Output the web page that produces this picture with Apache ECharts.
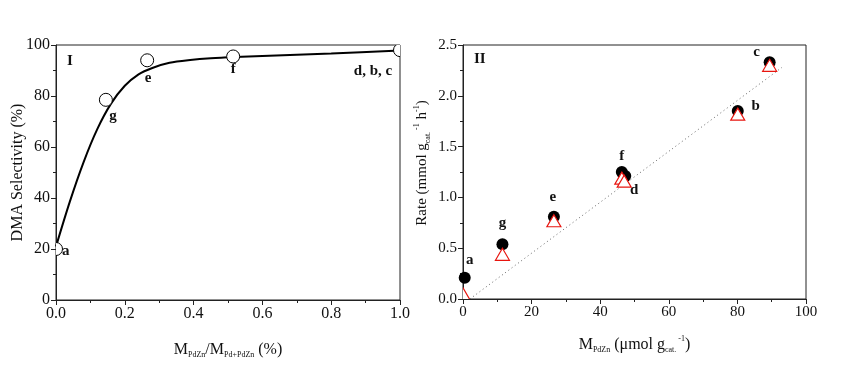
<!DOCTYPE html>
<html><head><meta charset="utf-8">
<script src="https://cdn.jsdelivr.net/npm/echarts@6/dist/echarts.min.js"></script>
<style>html,body{margin:0;padding:0;background:#fff}#c{width:851px;height:369px}</style>
</head><body><div id="c"></div>
<script>
// Panel I: DMA selectivity vs fraction
const selX = [0.0, 0.145, 0.265, 0.515, 1.0];
const selY = [20, 78.5, 94, 95.5, 98];
const selLabels = ['a', 'g', 'e', 'f', 'd, b, c'];
// fitted curve through panel I
const curveX = [0, 0.04, 0.08, 0.12, 0.16, 0.2, 0.24, 0.28, 0.33, 0.39, 0.45, 0.52, 0.6, 0.8, 1.0];
const curveY = [21, 38.5, 54, 67, 77, 84, 88.5, 91, 93, 94.1, 94.8, 95.3, 95.7, 96.7, 97.8];
// Panel II: rate vs M_PdZn
const rateX = [0.5, 11.5, 26.5, 46.3, 47.3, 80.1, 89.4];
const rateCircle = [0.21, 0.54, 0.81, 1.25, 1.21, 1.85, 2.33];
const rateLabels = ['a', 'g', 'e', 'f', 'd', 'b', 'c'];
const triX = [0.0, 11.5, 26.5, 46.3, 47.0, 80.1, 89.4];
const rateTriangle = [0.05, 0.44, 0.77, 1.19, 1.16, 1.82, 2.30];
const fitX = [2, 93];
const fitY = [0, 2.28];
const leftXTicks = [0.0, 0.2, 0.4, 0.6, 0.8, 1.0];
const leftYTicks = [0, 20, 40, 60, 80, 100];
const rightXTicks = [0, 20, 40, 60, 80, 100];
const rightYTicks = [0.0, 0.5, 1.0, 1.5, 2.0, 2.5];

const FONT = 'Liberation Serif';
const selLabelOff = {a:[6,2,'left'], g:[7,16,'center'], e:[1,18,'center'], f:[0,13,'center'], 'd, b, c':[-27,21,'center']};
const rateLabelOff = {a:[5,-18], g:[0,-21], e:[-1,-20], f:[0,-16], d:[9,14], b:[18,-5], c:[-13,-10]};

function axisCommon(fs, extra){
  return Object.assign({
    axisLine:{show:true,onZero:false,lineStyle:{color:'#222',width:1}},
    axisTick:{show:true,inside:false,length:5,lineStyle:{color:'#222'}},
    minorTick:{show:true,splitNumber:2,length:3,lineStyle:{color:'#222'}},
    splitLine:{show:false},
    axisLabel:{color:'#111',fontFamily:FONT,fontSize:fs,margin:6},
    nameTextStyle:{color:'#111',fontFamily:FONT,fontSize:16},
    nameLocation:'middle'
  }, extra);
}
function rich(fs){ return {
  m:{fontFamily:FONT,fontSize:fs,color:'#111'},
  s:{fontFamily:FONT,fontSize:8,color:'#111',verticalAlign:'bottom',padding:[11,0,0,0]},
  p:{fontFamily:FONT,fontSize:8,color:'#111',verticalAlign:'top',padding:[0,0,9,0]}
};}

const chart = echarts.init(document.getElementById('c'));
chart.setOption({
  animation:false,
  backgroundColor:'#fff',
  title:[
    {text:'I',left:62,top:49,textStyle:{fontFamily:FONT,fontSize:15,fontWeight:'bold',color:'#111'}},
    {text:'II',left:469,top:47,textStyle:{fontFamily:FONT,fontSize:15,fontWeight:'bold',color:'#111'}}
  ],
  grid:[
    {left:56,right:451,top:45,bottom:69,show:true,borderColor:'#222',borderWidth:1,backgroundColor:'transparent'},
    {left:463,right:45,top:45,bottom:70,show:true,borderColor:'#222',borderWidth:1,backgroundColor:'transparent'}
  ],
  xAxis:[
    axisCommon(16,{gridIndex:0,type:'value',min:0,max:1,interval:0.2,
      axisLabel:{color:'#111',fontFamily:FONT,fontSize:16,margin:6,formatter:v=>v.toFixed(1)},
      name:'{m|M}{s|PdZn}{m|/M}{s|Pd+PdZn}{m| (%)}',nameGap:40,nameTextStyle:{rich:rich(16)}}),
    axisCommon(15,{gridIndex:1,type:'value',min:0,max:100,interval:20,
      name:'{m|M}{s|PdZn}{m| (μmol g}{s|cat.}{p| -1}{m|)}',nameGap:36,nameTextStyle:{rich:rich(16)}})
  ],
  yAxis:[
    axisCommon(16,{gridIndex:0,type:'value',min:0,max:100,interval:20,
      name:'DMA Selectivity (%)',nameGap:30,nameMoveOverlap:false}),
    axisCommon(15,{gridIndex:1,type:'value',min:0,max:2.5,interval:0.5,
      axisLabel:{color:'#111',fontFamily:FONT,fontSize:15,margin:6,formatter:v=>v.toFixed(1)},
      name:'{m|Rate (mmol g}{s|cat.}{p| -1}{m| h}{p|-1}{m|)}',nameGap:31,
      nameTextStyle:{rich:rich(15),padding:[0,0,0,18]}})
  ],
  series:[
    {type:'line',xAxisIndex:0,yAxisIndex:0,smooth:0.3,showSymbol:false,symbol:'none',
      lineStyle:{color:'#000',width:2},data:curveX.map((x,i)=>[x,curveY[i]]),z:2},
    {type:'custom',xAxisIndex:0,yAxisIndex:0,clip:true,z:3,
      data:selX.map((x,i)=>[x,selY[i],i]),
      renderItem:function(params,api){
        const p=api.coord([api.value(0),api.value(1)]);
        const lab=selLabels[api.value(2)];const o=selLabelOff[lab];
        return {type:'group',children:[
          {type:'circle',shape:{cx:p[0],cy:p[1],r:6.5},style:{fill:'#fff',stroke:'#000',lineWidth:1}},
          {type:'text',x:p[0]+o[0],y:p[1]+o[1],style:{text:lab,font:'bold 15px "Liberation Serif"',fill:'#111',align:o[2],verticalAlign:'middle'}}
        ]};
      }},
    {type:'line',xAxisIndex:1,yAxisIndex:1,showSymbol:false,symbol:'none',
      lineStyle:{color:'#666',width:1,type:[1,3]},data:fitX.map((x,i)=>[x,fitY[i]]),z:1},
    {type:'scatter',xAxisIndex:1,yAxisIndex:1,symbol:'circle',symbolSize:12,
      itemStyle:{color:'#000',opacity:1},z:3,
      data:rateX.map((x,i)=>{const o=rateLabelOff[rateLabels[i]];return {value:[x,rateCircle[i]],
        label:{show:true,formatter:rateLabels[i],position:'inside',offset:o,
          fontFamily:FONT,fontSize:15,fontWeight:'bold',color:'#111'}};})},
    {type:'custom',xAxisIndex:1,yAxisIndex:1,clip:true,z:4,
      data:triX.map((x,i)=>[x,rateTriangle[i]]),
      renderItem:function(params,api){
        const p=api.coord([api.value(0),api.value(1)]);const w=14,h=12;
        return {type:'polygon',shape:{points:[[p[0],p[1]-h/2],[p[0]+w/2,p[1]+h/2],[p[0]-w/2,p[1]+h/2]]},
          style:{fill:'#fff',stroke:'#e8150f',lineWidth:1.2}};
      }}
  ]
});
</script></body></html>
